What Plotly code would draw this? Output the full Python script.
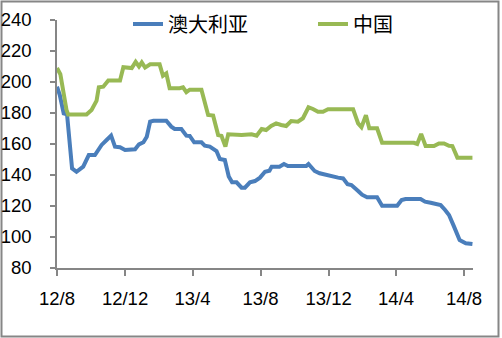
import plotly.graph_objects as go

# ---- data ----
aus_dates = ["2012-08-01","2012-08-06","2012-08-13","2012-08-19","2012-08-28","2012-09-05",
             "2012-09-17","2012-09-27","2012-10-08","2012-10-20","2012-10-29","2012-11-06",
             "2012-11-13","2012-11-22","2012-12-01","2012-12-19","2012-12-26","2013-01-03",
             "2013-01-09","2013-01-15","2013-01-21","2013-02-13","2013-02-22","2013-02-28",
             "2013-03-12","2013-03-21","2013-03-27","2013-04-04","2013-04-17","2013-04-23",
             "2013-05-02","2013-05-14","2013-05-20","2013-05-29","2013-06-05","2013-06-11",
             "2013-06-19","2013-06-28","2013-07-04","2013-07-13","2013-07-22","2013-07-31",
             "2013-08-09","2013-08-17","2013-08-21","2013-09-04","2013-09-12","2013-09-19",
             "2013-10-22","2013-10-26","2013-11-06","2013-11-15","2013-12-18","2013-12-27",
             "2014-01-04","2014-01-11","2014-01-23","2014-01-30","2014-02-08","2014-02-26",
             "2014-03-07","2014-04-03","2014-04-11","2014-04-18","2014-05-15","2014-05-23",
             "2014-06-02","2014-06-11","2014-06-20","2014-06-28","2014-07-05","2014-07-14",
             "2014-07-24","2014-08-04","2014-08-16"]
aus_values = [197,191.6,179.8,179.2,144.3,142.1,
              145.4,152.9,152.9,159.4,162.6,165.4,
              158.3,157.9,156.1,156.6,159.8,161.1,
              164.7,174.4,175,175,171.2,169.7,
              169.7,165.4,165.2,161.1,161.1,158.9,
              158.3,155.5,150.3,149.7,139.1,135.3,
              135.3,131.8,131.8,135.3,136.1,138.3,
              142.1,142.8,145.4,145.4,147.1,145.8,
              145.8,147.1,142.6,141.1,138.3,137.8,
              134,133.5,129.7,127.3,125.6,125.6,
              120.2,120.2,123.9,124.5,124.5,122.8,
              122.1,121.1,120.6,117.4,114.2,106.7,
              98,96,95.5]

chn_dates = ["2012-08-01","2012-08-07","2012-08-18","2012-08-21","2012-09-23","2012-10-02",
             "2012-10-11","2012-10-15","2012-10-23","2012-11-01","2012-11-22","2012-11-28",
             "2012-12-13","2012-12-20","2012-12-26","2012-12-31","2013-01-06","2013-01-15",
             "2013-02-01","2013-02-07","2013-02-13","2013-02-19","2013-03-09","2013-03-15",
             "2013-03-21","2013-03-27","2013-04-17","2013-04-29","2013-05-08","2013-05-17",
             "2013-05-23","2013-05-30","2013-06-04","2013-06-28","2013-07-16","2013-07-25",
             "2013-08-03","2013-08-11","2013-08-20","2013-08-29","2013-09-07","2013-09-16",
             "2013-09-25","2013-10-07","2013-10-16","2013-10-26","2013-11-03","2013-11-12",
             "2013-11-21","2013-11-30","2014-01-14","2014-01-23","2014-01-29","2014-02-06",
             "2014-02-12","2014-02-26","2014-03-07","2014-05-03","2014-05-09","2014-05-16",
             "2014-05-24","2014-06-08","2014-06-17","2014-06-26","2014-07-05","2014-07-11",
             "2014-07-20","2014-08-16"]
chn_values = [209,205,182,179,179,182,
              188,196.6,197,201,201,209.5,
              209,213,210,212.7,209.3,211.4,
              211.4,204,205.6,196,196,196.6,
              193.4,195,195,178.7,178.3,165.8,
              165.2,158.3,166.3,165.8,166.3,165.4,
              169.7,169,171.6,173.3,172.3,171.6,
              174.8,174.4,176.6,183.7,182.6,180.8,
              180.8,182.4,182.4,173.3,170.8,178.5,
              170.1,170.1,160.8,160.8,160,166.5,
              158.7,158.7,160.4,160.4,158.9,158.7,
              151.2,151.2]

series_names = ["澳大利亚", "中国"]
tick_dates = ["2012-08-01","2012-12-01","2013-04-01","2013-08-01","2013-12-01","2014-04-01","2014-08-01"]
tick_labels = ["12/8","12/12","13/4","13/8","13/12","14/4","14/8"]
y_ticks = [80,100,120,140,160,180,200,220,240]

BLUE = "#4A7EBB"
GREEN = "#98B954"
AXIS = "#868686"

fig = go.Figure()
fig.add_trace(go.Scatter(x=aus_dates, y=aus_values, mode="lines", name=series_names[0],
                         line=dict(color=BLUE, width=4)))
fig.add_trace(go.Scatter(x=chn_dates, y=chn_values, mode="lines", name=series_names[1],
                         line=dict(color=GREEN, width=4)))

L, R, T, B = 57, 29, 20, 70
W, H = 502, 338
pw, ph = W - L - R, H - T - B

def px_x(p):
    return (p - L) / pw

def px_y(p):
    return (H - B - p) / ph

fig.update_layout(
    width=W, height=H,
    margin=dict(l=L, r=R, t=T, b=B, pad=0, autoexpand=False),
    paper_bgcolor="white", plot_bgcolor="white",
    font=dict(family="Liberation Sans, Arial, sans-serif", size=18.5, color="black"),
    showlegend=True,
    legend=dict(orientation="h", x=px_x(128), y=px_y(24), xanchor="left", yanchor="middle",
                font=dict(family="Noto Sans CJK SC", size=20, color="black"),
                bgcolor="rgba(0,0,0,0)", entrywidth=140, entrywidthmode="pixels",
                tracegroupgap=0, itemwidth=30),
    xaxis=dict(type="date", range=["2012-08-01", "2014-08-17"], automargin=False,
               tickmode="array", tickvals=tick_dates, ticktext=tick_labels,
               showgrid=False, zeroline=False, showline=True, linecolor=AXIS, linewidth=1.5,
               ticks="outside", ticklen=6, tickcolor=AXIS, tickwidth=1.5,
               ticklabelstandoff=7),
    yaxis=dict(range=[80, 240], tickmode="array", tickvals=y_ticks, automargin=False,
               showgrid=False, zeroline=False, showline=True, linecolor=AXIS, linewidth=1.5,
               ticks="outside", ticklen=5, tickcolor=AXIS, tickwidth=1.5,
               ticklabelstandoff=15),
)

# outer chart frame
fig.add_shape(type="rect", xref="paper", yref="paper",
              x0=px_x(1.5), x1=px_x(498.5), y0=px_y(336.5), y1=px_y(1.5),
              line=dict(color=AXIS, width=2), fillcolor="rgba(0,0,0,0)", layer="below")

fig.write_html("out.html")
